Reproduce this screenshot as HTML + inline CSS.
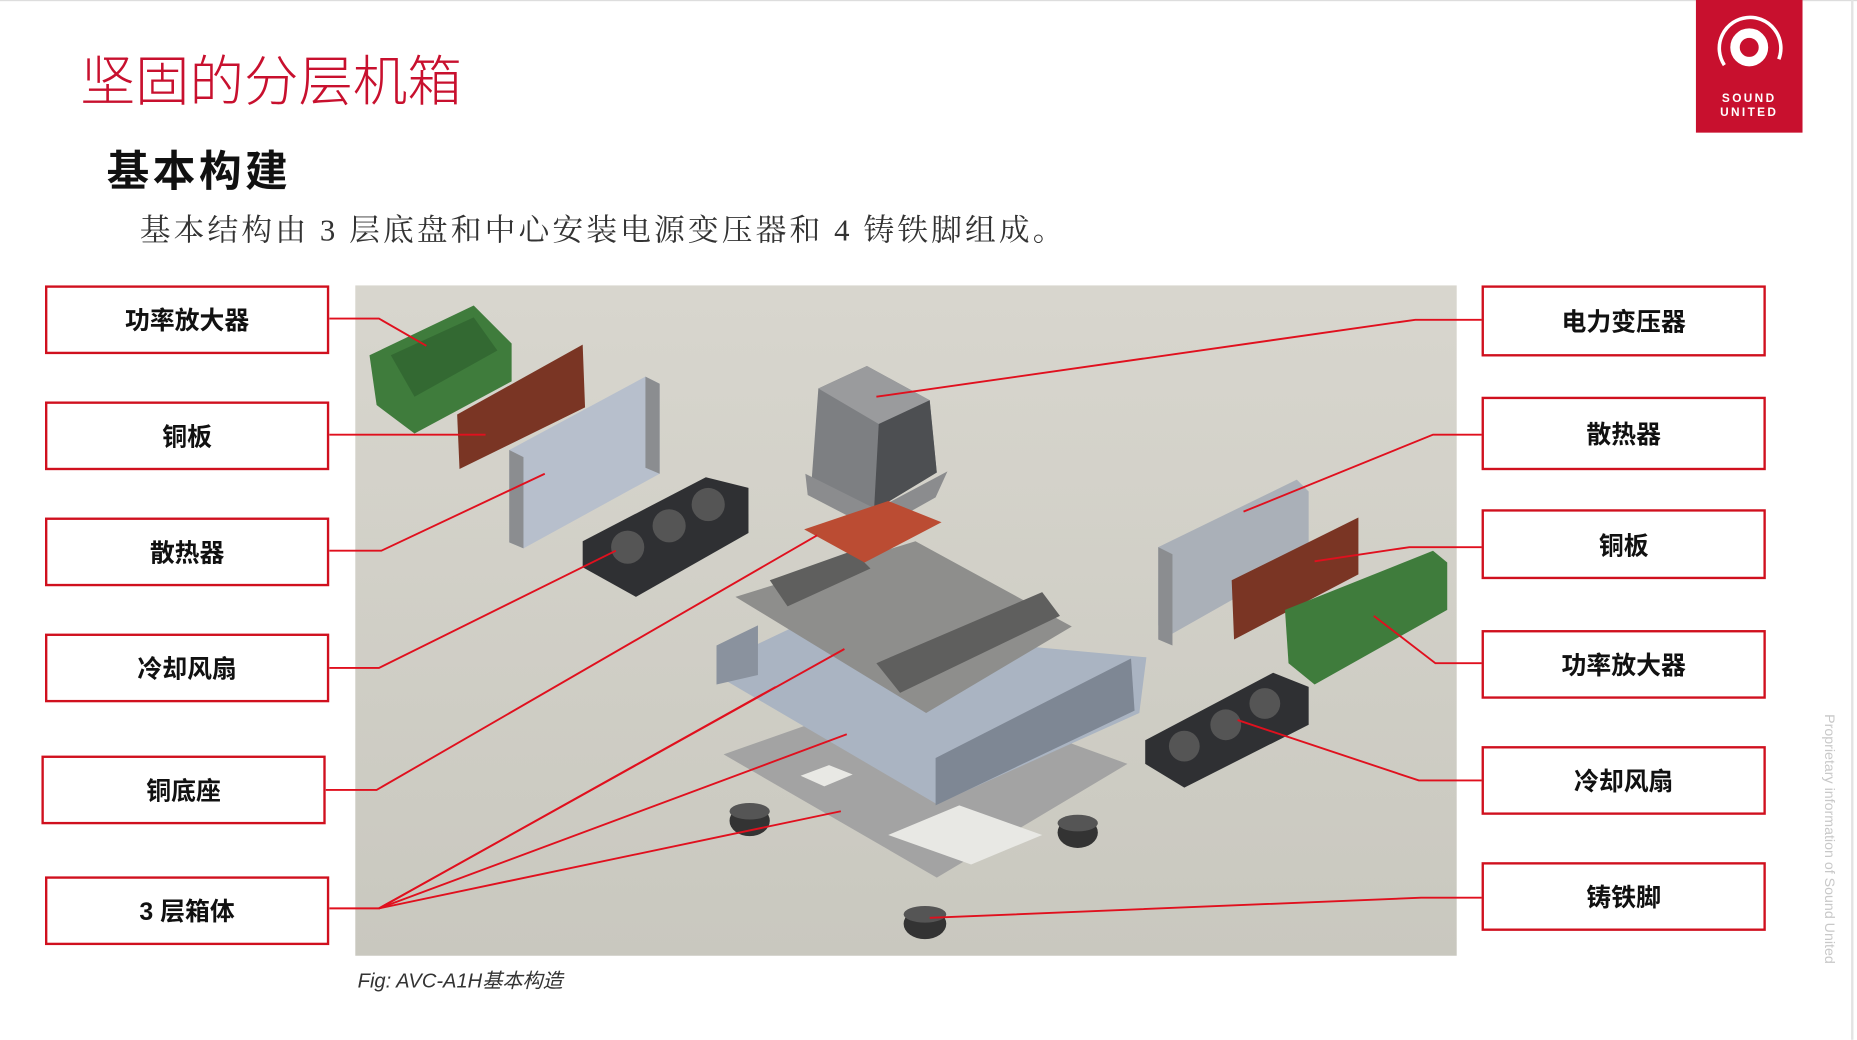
<!DOCTYPE html>
<html><head><meta charset="utf-8"><style>
html,body{margin:0;padding:0;background:#fff;overflow:hidden}
#w{position:absolute;left:0;top:0;width:1568px;height:878px;transform:scale(1.18431);transform-origin:0 0;font-family:"Liberation Sans","Noto Sans CJK SC",sans-serif}
.t1{position:absolute;left:68px;top:33px;font-size:46px;color:#c8102e;font-family:"Liberation Sans","Noto Sans CJK SC",sans-serif;font-weight:300;letter-spacing:0px}
.t2{position:absolute;left:90px;top:116px;font-size:36px;font-weight:bold;color:#111;letter-spacing:3px}
.t3{position:absolute;left:118px;top:174px;font-size:26px;color:#333;letter-spacing:2.6px;font-family:"Liberation Serif","Noto Serif CJK SC",serif}
.box{position:absolute;width:236px;height:54px;border:2px solid #d0101e;background:#fff;display:flex;align-items:center;justify-content:center;font-size:21px;font-weight:bold;color:#111}
.cap{position:absolute;left:302px;top:814px;font-size:17px;font-style:italic;color:#333}
.vt{position:absolute;left:1435px;top:706px;width:220px;transform:rotate(90deg);font-size:12px;color:#c8c8c8;white-space:nowrap}
</style></head><body><div id="w">
<div style="position:absolute;left:0;top:0;width:1568px;height:1px;background:#ddd"></div>
<div style="position:absolute;left:1563px;top:0;width:2px;height:878px;background:#e3e3e3"></div>
<div class="t1">坚固的分层机箱</div>
<div class="t2">基本构建</div>
<div class="t3">基本结构由 3 层底盘和中心安装电源变压器和 4 铸铁脚组成。</div>
<div style="position:absolute;left:1432px;top:0;width:90px;height:112px;background:#c8102e"></div>
<svg style="position:absolute;left:1432px;top:0" width="90" height="112">
<circle cx="45" cy="40" r="12" fill="none" stroke="#fff" stroke-width="8"/>
<path d="M24 55 A26 26 0 1 1 70 50" fill="none" stroke="#fff" stroke-width="3"/>
<text x="45" y="86" fill="#fff" font-size="10" font-weight="bold" text-anchor="middle" letter-spacing="2" font-family="Liberation Sans">SOUND</text>
<text x="45" y="98" fill="#fff" font-size="10" font-weight="bold" text-anchor="middle" letter-spacing="2" font-family="Liberation Sans">UNITED</text>
</svg>
<svg style="position:absolute;left:0;top:0" width="1568" height="878">
<defs><linearGradient id="bg" x1="0" y1="0" x2="0" y2="1"><stop offset="0" stop-color="#d8d6ce"/><stop offset="1" stop-color="#c9c8bf"/></linearGradient></defs>
<rect x="300" y="241" width="930" height="566" fill="url(#bg)"/>
<polygon points="312,300 400,258 432,290 432,322 350,366 318,342" fill="#3f7c3c"/>
<polygon points="330,300 400,268 420,296 350,335" fill="#2c5e2b" opacity=".6"/>
<polygon points="386,350 492,291 494,344 388,396" fill="#7a3524"/>
<polygon points="430,380 545,318 557,324 557,400 442,463 430,458" fill="#b7bfcc"/>
<polygon points="430,380 442,386 442,463 430,458" fill="#8b8d90"/>
<polygon points="545,318 557,324 557,400 545,395" fill="#8b8d90"/>
<polygon points="492,457 596,403 632,412 632,450 537,504 492,479" fill="#2f3033"/>
<circle cx="530" cy="462" r="14" fill="#555"/><circle cx="565" cy="444" r="14" fill="#555"/><circle cx="598" cy="426" r="14" fill="#555"/>
<polygon points="691,328 732,309 785,338 791,399 738,431 685,410" fill="#7d7f82"/>
<polygon points="691,328 732,309 785,338 742,358" fill="#9a9b9d"/>
<polygon points="742,358 785,338 791,399 738,431" fill="#4d4f52"/>
<polygon points="680,400 740,430 800,398 790,420 740,448 682,418" fill="#8b8c8e"/>
<polygon points="611,637 773,580 952,645 791,741" fill="#a3a3a3"/>
<polygon points="750,705 810,680 880,705 820,730" fill="#e8e8e4"/>
<polygon points="676,655 700,646 720,654 696,664" fill="#e8e8e4"/>
<ellipse cx="633" cy="693" rx="17" ry="13" fill="#333"/><ellipse cx="633" cy="685" rx="17" ry="7" fill="#555"/>
<ellipse cx="910" cy="703" rx="17" ry="13" fill="#333"/><ellipse cx="910" cy="695" rx="17" ry="7" fill="#555"/>
<ellipse cx="781" cy="780" rx="18" ry="13" fill="#333"/><ellipse cx="781" cy="772" rx="18" ry="7" fill="#555"/>
<polygon points="610,558 673,528 968,555 962,602 791,679 610,573" fill="#aab4c2"/>
<polygon points="790,640 955,556 958,600 790,680" fill="#7e8794"/>
<polygon points="605,545 640,528 640,570 605,578" fill="#8a929e"/>
<polygon points="621,504 773,457 905,529 782,602" fill="#8e8e8c"/>
<polygon points="740,560 880,500 895,520 760,585" fill="#5f5f5e"/>
<polygon points="650,490 720,465 735,480 665,512" fill="#5f5f5e"/>
<polygon points="679,447 750,423 795,441 730,475" fill="#bb4c33"/>
<polygon points="978,462 1095,405 1105,415 1105,470 990,535 978,528" fill="#aab0b8"/>
<polygon points="978,462 990,468 990,545 978,540" fill="#8b8d90"/>
<polygon points="1040,490 1147,437 1147,485 1042,540" fill="#7a3524"/>
<polygon points="1085,515 1210,465 1222,475 1222,515 1110,578 1088,560" fill="#3f7c3c"/>
<polygon points="967,625 1075,568 1105,580 1105,612 1000,665 967,645" fill="#2f3033"/>
<circle cx="1000" cy="630" r="13" fill="#555"/><circle cx="1035" cy="612" r="13" fill="#555"/><circle cx="1068" cy="594" r="13" fill="#555"/>
<g fill="none" stroke="#e0101e" stroke-width="1.6">
<polyline points="278,269 320,269 360,292"/>
<polyline points="278,367 410,367"/>
<polyline points="278,465 322,465 460,400"/>
<polyline points="278,564 320,564 520,465"/>
<polyline points="275,667 318,667 690,452"/>
<polyline points="278,767 320,767 655,580"/>
<polyline points="320,767 713,548"/>
<polyline points="320,767 715,620"/>
<polyline points="320,767 710,685"/>
<polyline points="1251,270 1195,270 740,335"/>
<polyline points="1251,367 1210,367 1050,432"/>
<polyline points="1251,462 1190,462 1110,474"/>
<polyline points="1251,560 1212,560 1160,520"/>
<polyline points="1251,659 1198,659 1045,608"/>
<polyline points="1251,758 1200,758 785,775"/>
</g>
</svg>
<div class="box" style="left:38px;top:241px">功率放大器</div>
<div class="box" style="left:38px;top:339px">铜板</div>
<div class="box" style="left:38px;top:437px">散热器</div>
<div class="box" style="left:38px;top:535px">冷却风扇</div>
<div class="box" style="left:35px;top:638px">铜底座</div>
<div class="box" style="left:38px;top:740px">3 层箱体</div>
<div class="box" style="left:1251px;top:241px;height:56px">电力变压器</div>
<div class="box" style="left:1251px;top:335px;height:58px">散热器</div>
<div class="box" style="left:1251px;top:430px;height:55px">铜板</div>
<div class="box" style="left:1251px;top:532px">功率放大器</div>
<div class="box" style="left:1251px;top:630px">冷却风扇</div>
<div class="box" style="left:1251px;top:728px">铸铁脚</div>
<div class="cap">Fig: AVC-A1H基本构造</div>
<div class="vt">Proprietary information of Sound United</div>
</div></body></html>
